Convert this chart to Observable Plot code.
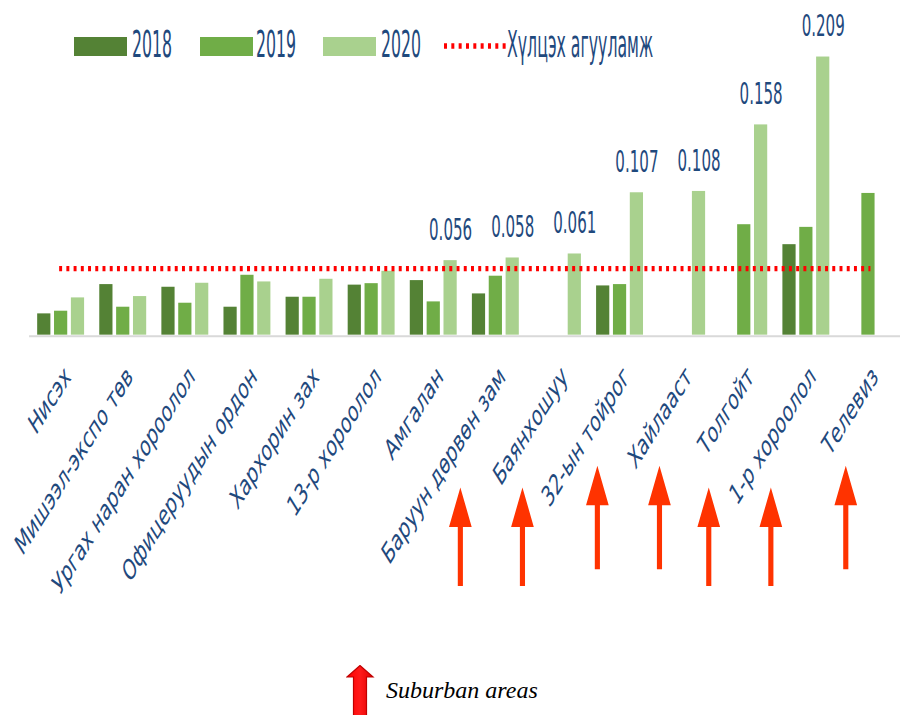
<!DOCTYPE html>
<html><head><meta charset="utf-8">
<script src="https://cdn.jsdelivr.net/npm/d3@7"></script>
<script src="https://cdn.jsdelivr.net/npm/@observablehq/plot@0.6"></script>
<style>
html,body{margin:0;padding:0;background:#fff;overflow:hidden;}
#wrap{position:relative;width:900px;height:715px;overflow:hidden;}
#chart{position:absolute;left:0;top:0;}
.lgt{position:absolute;font-family:"DejaVu Sans Condensed","DejaVu Sans",sans-serif;font-size:17.5px;line-height:17.5px;height:17.5px;top:36.5px;color:#1F497D;white-space:nowrap;transform:scaleY(2.1);transform-origin:left center;}
.sw{position:absolute;height:19px;width:53px;top:37px;}
#caption{position:absolute;left:346px;top:665px;}
#caption span{position:absolute;left:40px;top:12px;font-family:"Liberation Serif","Times New Roman",serif;font-style:italic;font-size:24px;white-space:nowrap;color:#000;}
</style></head><body>
<div id="wrap"><div id="chart"></div><div id="legend"></div><div id="caption"></div></div>
<script>
// ---- data ----
const categories = ["Нисэх","Мишээл-экспо төв","Ургах наран хороолол","Офицеруудын ордон","Хархорин зах","13-р хороолол","Амгалан","Баруун дөрвөн зам","Баянхошуу","32-ын тойрог","Хайлааст","Толгойт","1-р хороолол","Телевиз"];
const values2018 = [0.016, 0.038, 0.036, 0.021, 0.0285, 0.0376, 0.041, 0.031, null, 0.037, null, null, 0.068, null];
const values2019 = [0.018, 0.021, 0.024, 0.045, 0.0285, 0.0387, 0.025, 0.0443, null, 0.038, null, 0.083, 0.081, 0.1065];
const values2020 = [0.028, 0.029, 0.039, 0.040, 0.042, 0.048, 0.056, 0.058, 0.061, 0.107, 0.108, 0.158, 0.209, null];
const labeledCategories = ["Амгалан","Баруун дөрвөн зам","Баянхошуу","32-ын тойрог","Хайлааст","Толгойт","1-р хороолол"];
const seriesNames = ["2018","2019","2020"];
const seriesColors = ["#548235","#70AD47","#A9D18E"];
const thresholdValue = 0.05;
const thresholdName = "Хүлцэх агууламж";
const suburbanGroupA = ["32-ын тойрог","Хайлааст","Телевиз"];
const suburbanGroupB = ["Баруун дөрвөн зам","Баянхошуу","Толгойт","1-р хороолол"];
const captionText = "Suburban areas";

// ---- build ----
const series = [values2018, values2019, values2020];
const rows = series.map(vals => categories.map((c, i) => ({cat: c, v: vals[i]})).filter(d => d.v != null));
const labelRows = categories.map((c, i) => ({cat: c, v: values2020[i]})).filter(d => labeledCategories.includes(d.cat));
const fmt = d3.format(".3f");

const textColor = "#1F497D";
const fontFam = "'DejaVu Sans Condensed','DejaVu Sans',sans-serif";
const barStep = 17.1, barInset = 24.8;

const blockArrow = {
  draw(ctx, l) {
    const hw = 11.5, hl = 40, sw = 2.6;
    ctx.moveTo(-sw, 0);
    ctx.lineTo(-sw, hl - l);
    ctx.lineTo(-hw, hl - l);
    ctx.lineTo(0, -l);
    ctx.lineTo(hw, hl - l);
    ctx.lineTo(sw, hl - l);
    ctx.lineTo(sw, 0);
    ctx.closePath();
  }
};

const plot = Plot.plot({
  width: 913, height: 715,
  marginLeft: 29.5, marginRight: 0, marginTop: 2, marginBottom: 375.5,
  style: {background: "transparent", overflow: "visible"},
  x: {domain: categories, padding: 0, axis: null},
  y: {domain: [0, 0.25], axis: null},
  marks: [
    Plot.ruleY([0], {stroke: "#d9d9d9", strokeWidth: 2, dy: 1}),
    ...rows.map((r, k) => Plot.barY(r, {x: "cat", y: "v", fill: seriesColors[k], dx: (k - 1) * barStep, insetLeft: barInset, insetRight: barInset})),
    Plot.ruleY([thresholdValue], {stroke: "#ff0000", strokeWidth: 5.5, strokeDasharray: "3 4.33", insetLeft: 30.5, insetRight: 30}),
    Plot.text(labelRows, {x: "cat", y: "v", text: d => fmt(d.v), dx: barStep, dy: -21, lineAnchor: "bottom", fontSize: 17, fontFamily: fontFam, fill: textColor}),
    Plot.text(categories, {x: d => d, frameAnchor: "bottom", dx: 1.5, dy: 29, rotate: -45, textAnchor: "end", lineAnchor: "top", fontSize: 18.5, fontFamily: fontFam, fill: textColor}),
    Plot.vector(suburbanGroupA, {x: d => d, frameAnchor: "bottom", dx: -23, dy: 237.5, length: 105, rotate: 0, anchor: "start", shape: blockArrow, fill: "#ff3300", stroke: "none"}),
    Plot.vector(suburbanGroupB, {x: d => d, frameAnchor: "bottom", dx: -36, dy: 254.5, length: 100, rotate: 0, anchor: "start", shape: blockArrow, fill: "#ff3300", stroke: "none"})
  ]
});
document.getElementById("chart").appendChild(plot);

// vertical stretch of text, as in the reference picture
function stretchText(t, sx, sy) {
  const tr = t.getAttribute("transform");
  if (tr && /^\s*translate\([^)]*\)/.test(tr)) {
    t.setAttribute("transform", tr.replace(/^\s*(translate\([^)]*\))/, `$1 scale(${sx},${sy})`));
  } else {
    const x = +t.getAttribute("x") || 0, y = +t.getAttribute("y") || 0;
    t.setAttribute("transform", `translate(${x},${y}) scale(${sx},${sy}) translate(${-x},${-y}) ${tr || ""}`);
  }
}
const valueTexts = new Set(labelRows.map(d => fmt(d.v)));
plot.querySelectorAll("text").forEach(t => {
  const s = t.textContent;
  if (valueTexts.has(s)) stretchText(t, 1, 1.75);
  else if (categories.includes(s)) stretchText(t, 1, 1.6);
});

// ---- legend ----
const legend = document.getElementById("legend");
const swX = [74, 200, 323], txX = [132, 256, 381];
seriesNames.forEach((name, k) => {
  const sw = document.createElement("div");
  sw.className = "sw"; sw.style.left = swX[k] + "px"; sw.style.background = seriesColors[k];
  legend.appendChild(sw);
  const t = document.createElement("div");
  t.className = "lgt"; t.style.left = txX[k] + "px"; t.textContent = name;
  legend.appendChild(t);
});
const dots = document.createElementNS("http://www.w3.org/2000/svg", "svg");
dots.setAttribute("width", 62); dots.setAttribute("height", 10);
dots.style.position = "absolute"; dots.style.left = "444px"; dots.style.top = "41px";
dots.innerHTML = '<line x1="0" x2="62" y1="5" y2="5" stroke="#ff0000" stroke-width="5.5" stroke-dasharray="3 4.33"/>';
legend.appendChild(dots);
const tl = document.createElement("div");
tl.className = "lgt"; tl.style.left = "507px"; tl.textContent = thresholdName;
legend.appendChild(tl);

// ---- caption ----
const cap = document.getElementById("caption");
cap.innerHTML = '<svg width="30" height="52" style="position:absolute;left:0;top:0"><defs><linearGradient id="ag" x1="0" x2="1"><stop offset="0" stop-color="#ff0000"/><stop offset="0.5" stop-color="#ff1a1a"/><stop offset="1" stop-color="#e00000"/></linearGradient></defs><path d="M7.5,52 L7.5,12 L1,12 L14,0.5 L27,12 L20.5,12 L20.5,52 Z" fill="url(#ag)" stroke="#c00000" stroke-width="1.2"/></svg>';
const cs = document.createElement("span"); cs.textContent = captionText; cap.appendChild(cs);
</script>
</body></html>
